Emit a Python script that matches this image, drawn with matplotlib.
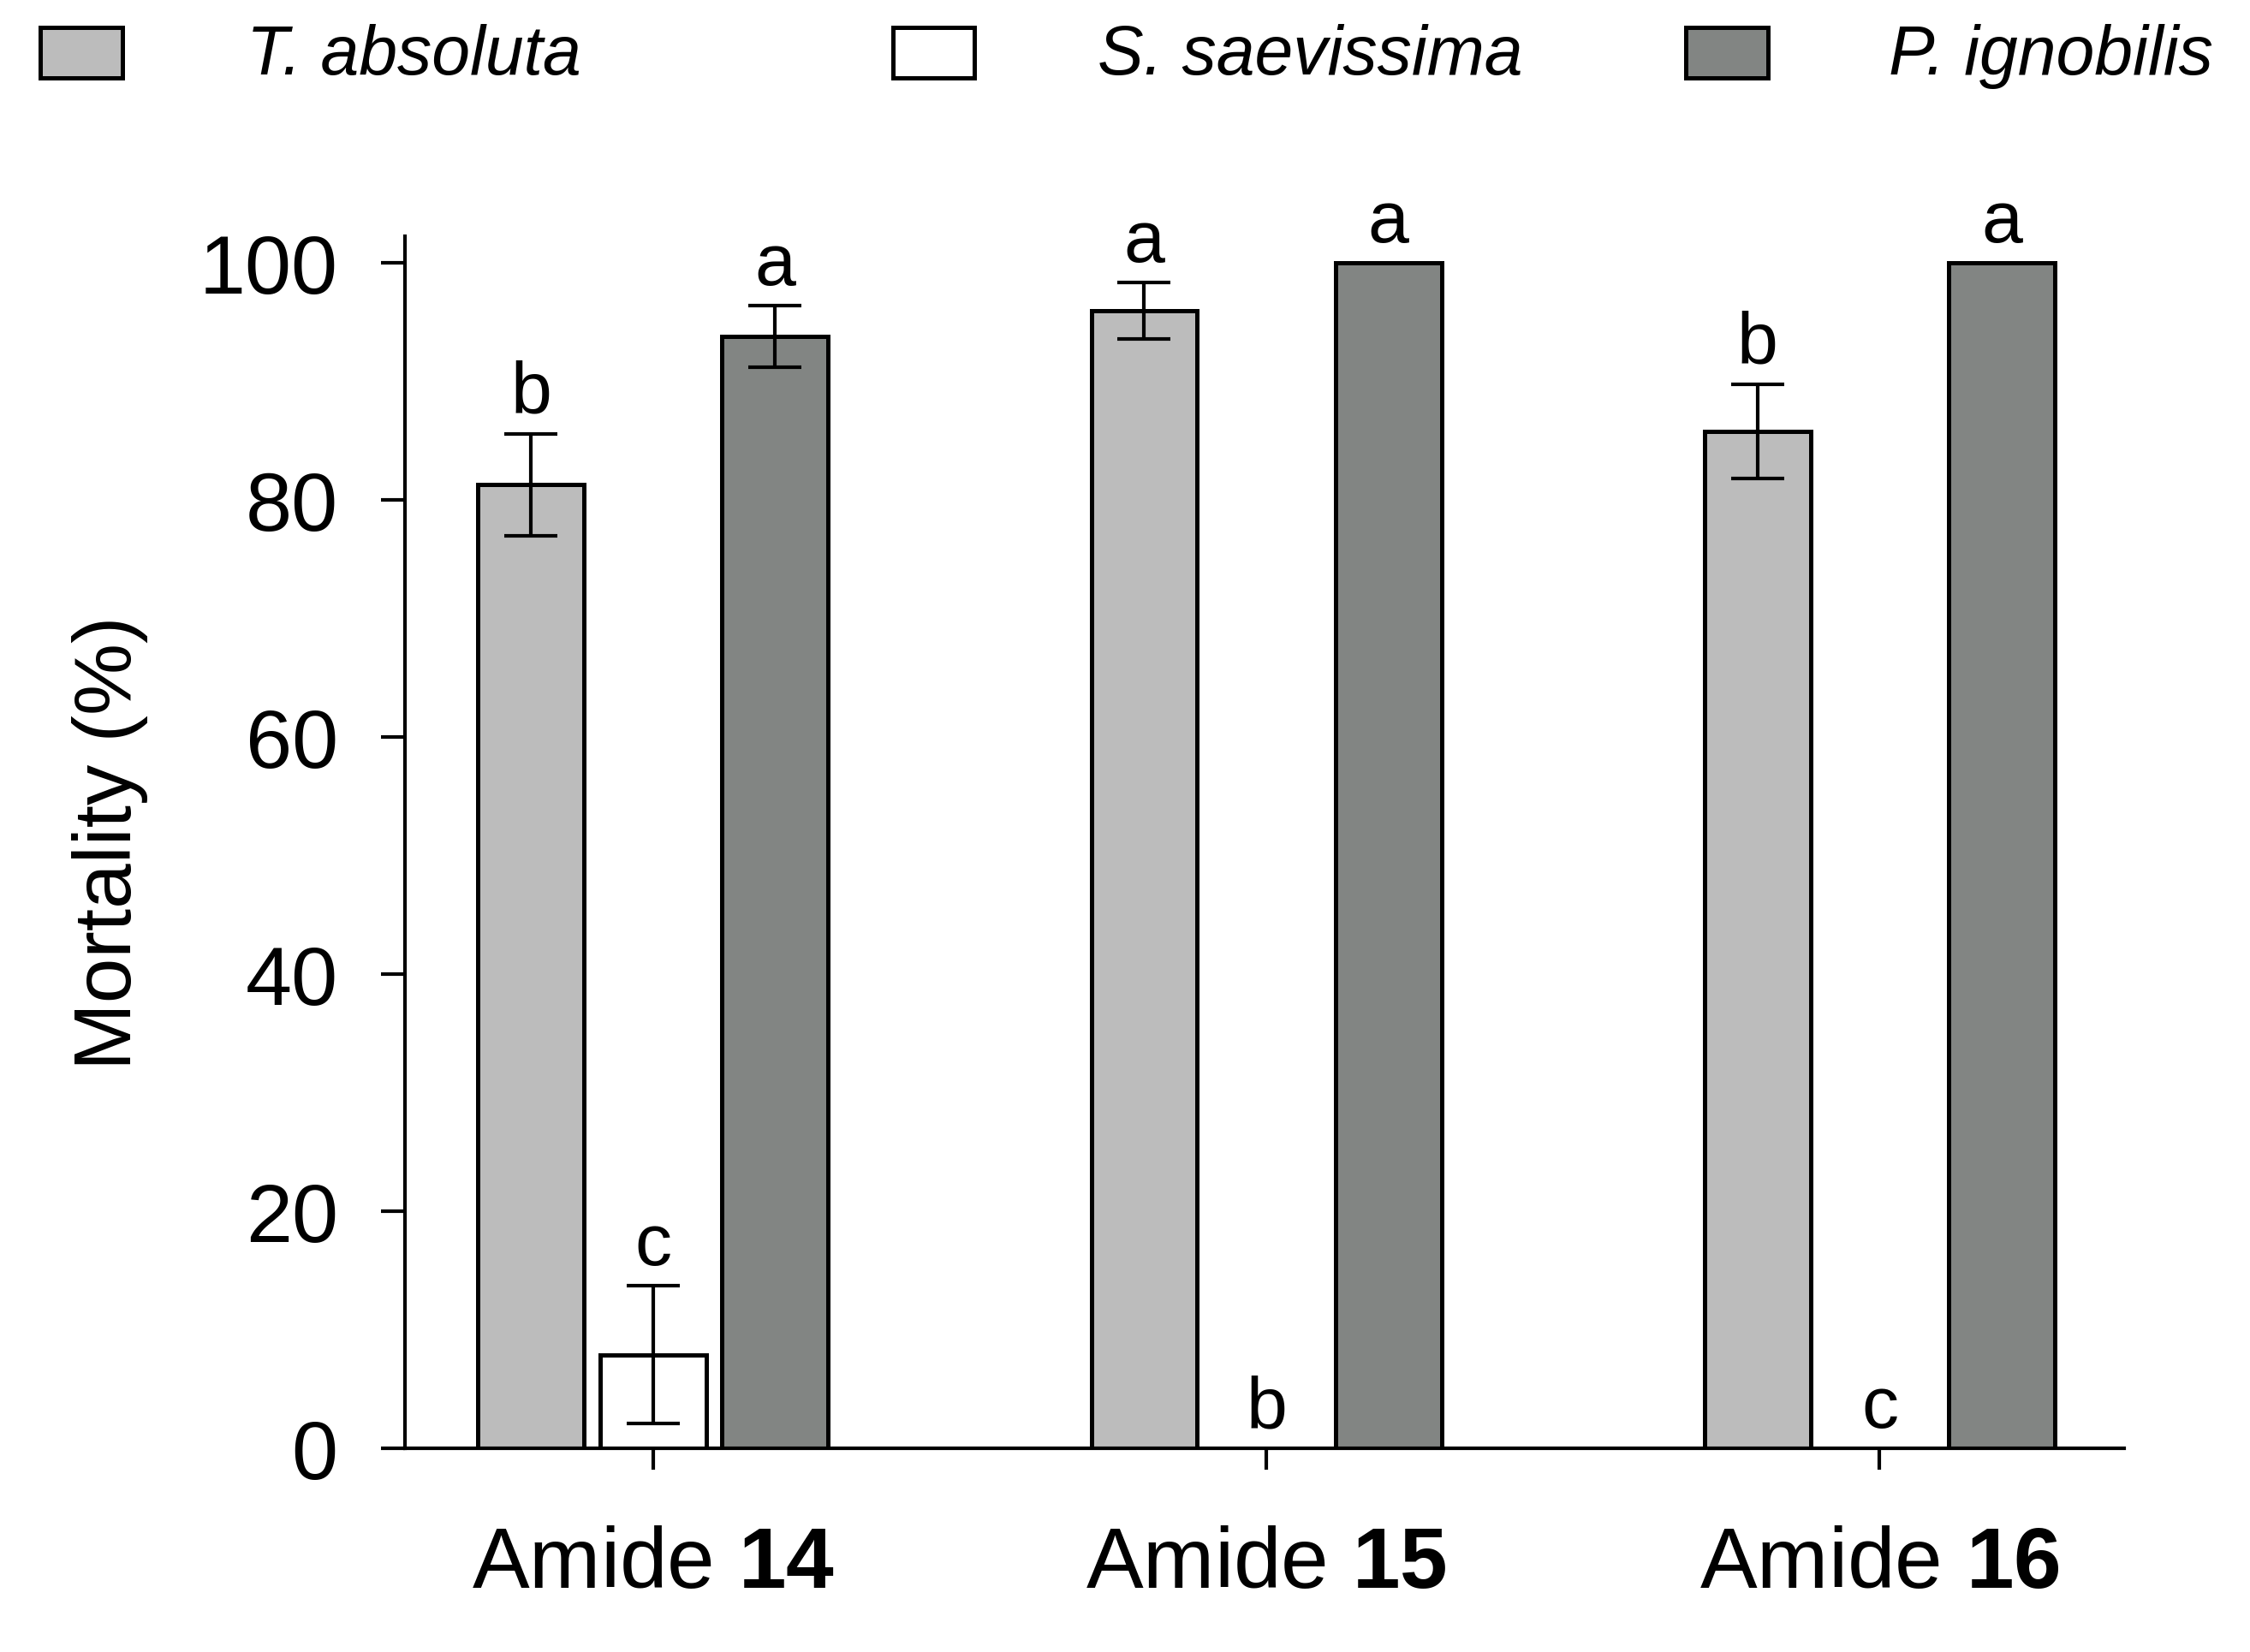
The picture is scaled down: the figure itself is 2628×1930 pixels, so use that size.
import numpy as np
import matplotlib
matplotlib.use("Agg")
import matplotlib.pyplot as plt
import matplotlib.patches as patches

plt.rcParams["font.family"] = ["Liberation Sans", "DejaVu Sans"]
plt.rcParams["mathtext.fontset"] = "custom"
plt.rcParams["mathtext.rm"] = "Liberation Sans"
plt.rcParams["mathtext.bf"] = "Liberation Sans:bold"

# -- data
compounds = ["14", "15", "16"]
species = ["T. absoluta", "S. saevissima", "P. ignobilis"]
colors = ["#bcbcbc", "#ffffff", "#828583"]

mortality = {
    "T. absoluta": [81.3, 96.0, 85.8],
    "S. saevissima": [7.9, 0.0, 0.0],
    "P. ignobilis": [93.8, 100.0, 100.0],
}
errors = {
    "T. absoluta": [4.3, 2.4, 4.0],
    "S. saevissima": [5.8, 0.0, 0.0],
    "P. ignobilis": [2.6, 0.0, 0.0],
}
letters = {
    "T. absoluta": ["b", "a", "b"],
    "S. saevissima": ["c", "b", "c"],
    "P. ignobilis": ["a", "a", "a"],
}

fig = plt.figure(figsize=(13.14, 9.655), dpi=200)
ax = fig.add_axes([0.1798, 0.1233, 0.9439 - 0.1798, 0.8568 - 0.1233])

x = np.arange(len(compounds))
width = 0.173
offset = 0.199

for i, sp in enumerate(species):
    xx = x + (i - 1) * offset
    vals = np.array(mortality[sp])
    errs = np.array(errors[sp])
    ax.bar(xx, vals, width=width, color=colors[i], edgecolor="black",
           linewidth=1.8, zorder=2)
    m = errs > 0
    if m.any():
        ax.errorbar(xx[m], vals[m], yerr=errs[m], fmt="none", ecolor="black",
                    elinewidth=1.5, capsize=11, capthick=1.5, zorder=3)
    for xi, v, e, lab in zip(xx, vals, errs, letters[sp]):
        ax.text(xi, v + e + 1.8, lab, ha="center", va="baseline", fontsize=31)

ax.set_xlim(-0.405, 2.398)
ax.set_ylim(0, 102.3)
ax.set_yticks([0, 20, 40, 60, 80, 100])
ax.set_xticks(x)
ax.set_xticklabels([r"Amide $\mathbf{%s}$" % c for c in compounds])

for s in ["top", "right"]:
    ax.spines[s].set_visible(False)
ax.spines["left"].set_linewidth(1.5)
ax.spines["bottom"].set_linewidth(1.5)

ax.tick_params(axis="y", direction="out", length=10, width=1.5, pad=18,
               labelsize=35)
ax.tick_params(axis="x", direction="out", length=9, width=1.5, pad=23,
               labelsize=36)

ax.set_ylabel("Mortality (%)", fontsize=34)
ax.yaxis.set_label_coords(-0.149, 0.5)

# -- legend across the top
box_x = [0.0179, 0.3967, 0.7494]
text_x = [0.1097, 0.4879, 0.8393]
for i, sp in enumerate(species):
    fig.patches.append(patches.Rectangle((box_x[i], 0.9523), 0.0364, 0.0304,
                                         transform=fig.transFigure,
                                         facecolor=colors[i],
                                         edgecolor="black", linewidth=1.8))
    fig.text(text_x[i], 0.966, sp, fontsize=29, style="italic",
             ha="left", va="center")

fig.savefig("out.png", dpi=200)
